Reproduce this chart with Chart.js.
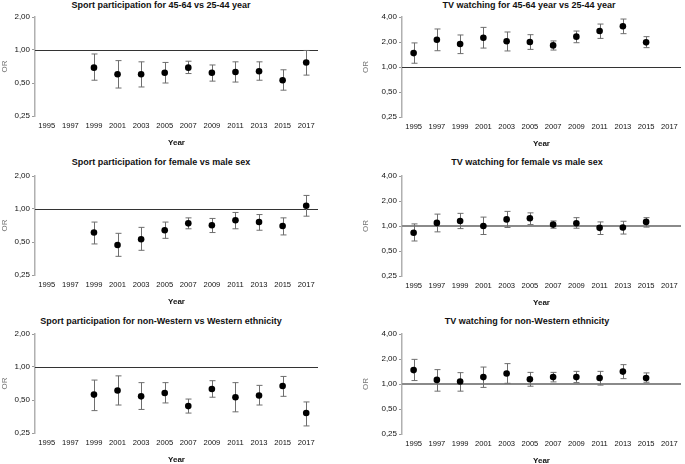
<!DOCTYPE html>
<html>
<head>
<meta charset="utf-8">
<script src="https://cdn.jsdelivr.net/npm/chart.js@4/dist/chart.umd.min.js"></script>
<style>
  html, body { margin: 0; padding: 0; background: #fff; overflow: hidden; }
  body { width: 685px; height: 464px; position: relative; font-family: "Liberation Sans", Arial, sans-serif; }
  canvas { position: absolute; }
  .ttl { position: absolute; transform: translate(-50%, -50%); white-space: nowrap;
         font: bold 9px "Liberation Sans", Arial, sans-serif; color: #111; }
</style>
</head>
<body>
<script>
// --- data ---
const years = ['1995', '1997', '1999', '2001', '2003', '2005', '2007', '2009', '2011', '2013', '2015', '2017'];
const sportTicks = [0.25, 0.5, 1, 2];
const tvTicks = [0.25, 0.5, 1, 2, 4];

// Sport participation, 45-64 vs 25-44 year
const sportAge   = [null, null, 0.69, 0.60, 0.60, 0.62, 0.69, 0.62, 0.63, 0.64, 0.53, 0.77];
const sportAgeLo = [null, null, 0.53, 0.45, 0.46, 0.50, 0.61, 0.52, 0.51, 0.53, 0.43, 0.59];
const sportAgeHi = [null, null, 0.92, 0.80, 0.78, 0.77, 0.79, 0.73, 0.78, 0.78, 0.66, 0.99];

// TV watching, 45-64 vs 25-44 year
const tvAge   = [1.47, 2.13, 1.89, 2.25, 2.04, 2.00, 1.82, 2.32, 2.71, 3.09, 1.98, null];
const tvAgeLo = [1.11, 1.57, 1.45, 1.69, 1.56, 1.63, 1.60, 1.96, 2.21, 2.52, 1.71, null];
const tvAgeHi = [1.95, 2.87, 2.43, 3.00, 2.64, 2.45, 2.06, 2.71, 3.29, 3.78, 2.32, null];

// Sport participation, female vs male
const sportSex   = [null, null, 0.61, 0.47, 0.53, 0.64, 0.74, 0.71, 0.79, 0.76, 0.70, 1.07];
const sportSexLo = [null, null, 0.48, 0.37, 0.42, 0.54, 0.66, 0.61, 0.66, 0.64, 0.58, 0.86];
const sportSexHi = [null, null, 0.76, 0.60, 0.68, 0.76, 0.83, 0.82, 0.93, 0.89, 0.83, 1.33];

// TV watching, female vs male
const tvSex   = [0.83, 1.09, 1.15, 1.00, 1.20, 1.24, 1.04, 1.08, 0.95, 0.96, 1.12, null];
const tvSexLo = [0.66, 0.85, 0.93, 0.79, 0.96, 1.04, 0.94, 0.94, 0.79, 0.80, 0.97, null];
const tvSexHi = [1.06, 1.39, 1.42, 1.28, 1.50, 1.44, 1.15, 1.26, 1.12, 1.14, 1.26, null];

// Sport participation, non-Western vs Western
const sportEth   = [null, null, 0.56, 0.61, 0.54, 0.58, 0.44, 0.63, 0.53, 0.55, 0.67, 0.38];
const sportEthLo = [null, null, 0.40, 0.45, 0.41, 0.47, 0.38, 0.53, 0.39, 0.45, 0.54, 0.29];
const sportEthHi = [null, null, 0.76, 0.83, 0.72, 0.72, 0.51, 0.75, 0.72, 0.68, 0.82, 0.48];

// TV watching, non-Western
const tvEth   = [1.47, 1.12, 1.07, 1.21, 1.34, 1.14, 1.21, 1.21, 1.18, 1.41, 1.18, null];
const tvEthLo = [1.10, 0.82, 0.82, 0.91, 1.02, 0.94, 1.06, 1.04, 0.97, 1.16, 1.05, null];
const tvEthHi = [1.98, 1.49, 1.37, 1.60, 1.76, 1.38, 1.38, 1.42, 1.42, 1.71, 1.36, null];

// --- panels: where each one goes ---
const panels = [
  { title: 'Sport participation for 45-64 vs 25-44 year', tx: 161, ty: 5,
    left: 0, top: 9, w: 322, plotH: 99, axisW: 35,
    ticks: sportTicks, val: sportAge, lo: sportAgeLo, hi: sportAgeHi, refColor: '#333', refWidth: 1 },
  { title: 'TV watching for 45-64 year vs 25-44 year', tx: 529, ty: 5,
    left: 361, top: 9, w: 324, plotH: 100, axisW: 41,
    ticks: tvTicks, val: tvAge, lo: tvAgeLo, hi: tvAgeHi, refColor: '#333', refWidth: 1 },
  { title: 'Sport participation for female vs male sex', tx: 161, ty: 162,
    left: 0, top: 168, w: 322, plotH: 99, axisW: 35,
    ticks: sportTicks, val: sportSex, lo: sportSexLo, hi: sportSexHi, refColor: '#333', refWidth: 1 },
  { title: 'TV watching for female vs male sex', tx: 527, ty: 162,
    left: 361, top: 168, w: 324, plotH: 100, axisW: 41,
    ticks: tvTicks, val: tvSex, lo: tvSexLo, hi: tvSexHi, refColor: '#8a8a8a', refWidth: 2 },
  { title: 'Sport participation for non-Western vs Western ethnicity', tx: 161, ty: 321,
    left: 0, top: 326, w: 322, plotH: 99, axisW: 35,
    ticks: sportTicks, val: sportEth, lo: sportEthLo, hi: sportEthHi, refColor: '#333', refWidth: 1 },
  { title: 'TV watching for non-Western ethnicity', tx: 527, ty: 321,
    left: 361, top: 326, w: 324, plotH: 100, axisW: 41,
    ticks: tvTicks, val: tvEth, lo: tvEthLo, hi: tvEthHi, refColor: '#8a8a8a', refWidth: 2 }
];

const PAD_TOP = 8;
const X_AXIS_H = 32;
const FONT = '"Liberation Sans", Arial, sans-serif';

// line at OR = 1 and the confidence intervals
const orPlugin = {
  id: 'orPlugin',
  beforeDatasetsDraw(chart, args, opts) {
    const { ctx, chartArea } = chart;
    const x = chart.scales.x, y = chart.scales.y;
    ctx.save();
    const y1 = Math.round(y.getPixelForValue(1)) + (opts.refWidth % 2 ? 0.5 : 0);
    ctx.strokeStyle = opts.refColor;
    ctx.lineWidth = opts.refWidth;
    ctx.beginPath();
    ctx.moveTo(chartArea.left, y1);
    ctx.lineTo(chartArea.right, y1);
    ctx.stroke();

    ctx.strokeStyle = '#6e6e6e';
    ctx.lineWidth = 1;
    opts.lo.forEach((l, i) => {
      const h = opts.hi[i];
      if (l == null || h == null) return;
      const px = Math.round(x.getPixelForValue(i)) + 0.5;
      const pl = y.getPixelForValue(l), ph = y.getPixelForValue(h);
      ctx.beginPath();
      ctx.moveTo(px, pl); ctx.lineTo(px, ph);
      ctx.moveTo(px - 3, pl); ctx.lineTo(px + 3, pl);
      ctx.moveTo(px - 3, ph); ctx.lineTo(px + 3, ph);
      ctx.stroke();
    });
    ctx.restore();
  }
};

panels.forEach(p => {
  const t = document.createElement('div');
  t.className = 'ttl';
  t.textContent = p.title;
  t.style.left = p.tx + 'px';
  t.style.top = p.ty + 'px';
  document.body.appendChild(t);

  const cv = document.createElement('canvas');
  cv.width = p.w;
  cv.height = PAD_TOP + p.plotH + X_AXIS_H;
  cv.style.left = p.left + 'px';
  cv.style.top = p.top + 'px';
  document.body.appendChild(cv);

  new Chart(cv.getContext('2d'), {
    type: 'line',
    data: {
      labels: years,
      datasets: [{
        data: p.val,
        showLine: false,
        pointRadius: 3.3,
        pointBackgroundColor: '#000',
        pointBorderColor: '#000',
        pointBorderWidth: 0
      }]
    },
    options: {
      responsive: false,
      animation: false,
      layout: { padding: { top: PAD_TOP, right: 0, left: 0, bottom: 0 } },
      plugins: {
        legend: { display: false },
        tooltip: { enabled: false },
        orPlugin: { lo: p.lo, hi: p.hi, refColor: p.refColor, refWidth: p.refWidth }
      },
      scales: {
        x: {
          type: 'category',
          offset: true,
          grid: { display: false, drawTicks: false },
          border: { display: false },
          ticks: { color: '#111', font: { family: FONT, size: 7.6 }, padding: 5, maxRotation: 0, autoSkip: false },
          title: { display: true, text: 'Year', color: '#111', font: { family: FONT, size: 8, weight: 'bold' }, padding: { top: 0, bottom: 0 } },
          afterFit(s) { s.height = X_AXIS_H; }
        },
        y: {
          type: 'logarithmic',
          min: p.ticks[0],
          max: p.ticks[p.ticks.length - 1],
          afterBuildTicks(s) { s.ticks = p.ticks.map(v => ({ value: v })); },
          grid: { drawOnChartArea: false, drawTicks: true, tickLength: 3, color: '#9a9a9a', lineWidth: 1 },
          border: { display: true, color: '#b0b0b0', width: 1.5 },
          ticks: {
            color: '#111', font: { family: FONT, size: 8 }, padding: 2,
            callback: v => v.toFixed(2).replace('.', ',')
          },
          title: { display: true, text: 'OR', color: '#777', font: { family: FONT, size: 8 }, padding: { top: 0, bottom: 0 } },
          afterFit(s) { s.width = p.axisW; }
        }
      }
    },
    plugins: [orPlugin]
  });
});
</script>
</body>
</html>
